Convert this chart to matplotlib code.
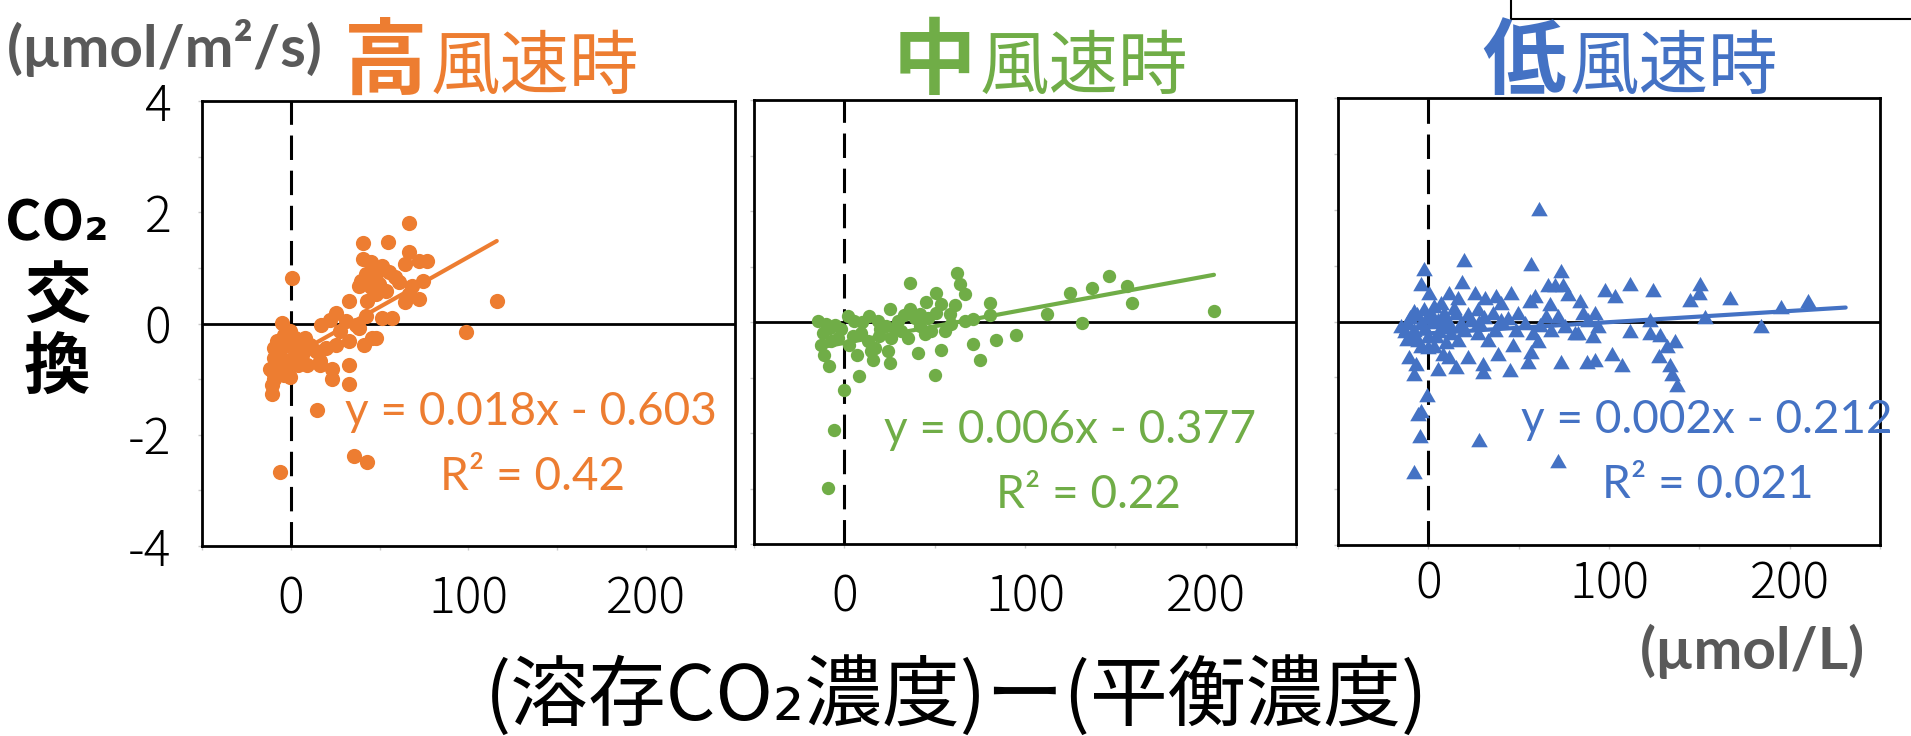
import matplotlib
matplotlib.use('Agg')
import matplotlib.pyplot as plt
from matplotlib.lines import Line2D

plt.rcParams['font.family'] = ['Noto Sans CJK JP', 'DejaVu Sans']
plt.rcParams['axes.unicode_minus'] = False

# 高風速時
high_x = [66.7, 40.4, 54.6, 66.3, 0.6, 115.9, 98.7, 14.8, 35.4, 43.1,
          -6.3, 33.0, 33.0, 23.3, 23.3, -10.6, -10.6, -10.0, -0.4, -5.0,
          16.3, 40.4, 45.0, 51.5, 64.4, 71.9, 76.5, 42.2, 47.8, 55.2,
          58.9, 39.4, 38.5, 45.0, 49.6, 60.7, 68.1, 74.6, 53.3, 43.1,
          47.8, 66.3, 71.9, 64.4, 33.0, 57.0, 51.5, 42.2, 17.2, 25.6,
          21.9, 31.1, 36.7, 38.5, 45.9, 47.8, 41.3, 33.0, 27.4, 25.6,
          20.0, 14.4, 8.9, 8.9, 16.3, -9.6, -9.6, -11.5, -5.9, -4.1,
          -2.2, 2.4, 3.3, 6.1, 1.5, -2.2, -6.9, 4.3, 8.0, 10.7,
          -7.8, -0.4, -4.1, -9.6]
high_y = [1.81, 1.45, 1.47, 1.28, 0.82, 0.41, -0.15, -1.56, -2.38, -2.49,
          -2.67, -0.75, -1.08, -0.81, -0.99, -1.26, -1.11, -0.87, -0.96, 0.01,
          -0.75, 1.16, 1.10, 1.04, 1.07, 1.12, 1.13, 0.89, 0.89, 0.92,
          0.83, 0.77, 0.68, 0.65, 0.71, 0.74, 0.68, 0.77, 0.59, 0.41,
          0.53, 0.53, 0.44, 0.38, 0.41, 0.10, 0.10, 0.13, -0.02, 0.19,
          0.07, 0.04, -0.02, -0.08, -0.26, -0.26, -0.38, -0.32, -0.14, -0.38,
          -0.44, -0.50, -0.44, -0.75, -0.68, -0.44, -0.62, -0.81, -0.56, -0.20,
          -0.38, -0.26, -0.44, -0.56, -0.62, -0.75, -0.75, -0.75, -0.26, -0.38,
          -0.32, -0.14, -0.93, -0.99]

# 中風速時
mid_x = [62.6, 63.9, 66.7, 36.1, 50.9, 45.4, 53.7, 61.1, 80.9, 80.6,
         112.0, 125.0, 137.0, 131.5, 95.0, 83.9, 71.3, 75.0, 50.0, 8.3,
         0.0, -5.9, -9.3, 40.7, 53.7, 25.0, 15.7, -8.3, -11.1, -13.0,
         -14.8, -10.2, -3.7, 2.8, 1.9, 5.6, 13.9, 18.5, 25.0, 29.6,
         36.1, 38.9, 31.5, 25.9, 19.4, 13.0, 9.3, 46.3, 48.1, 44.4,
         55.6, 59.3, 58.3, 66.7, 71.3, 50.9, 41.7, 35.2, 16.7, -7.4,
         -1.9, 23.1, 14.8, 24.1, 146.3, 156.4, 159.2, 204.6,
         -12.0, -8.0, 5.0, 10.0, 20.0, 28.0, 33.0, 42.0, -5.0, 7.0]
mid_y = [0.88, 0.68, 0.50, 0.70, 0.52, 0.36, 0.33, 0.31, 0.34, 0.13,
         0.15, 0.53, 0.61, -0.01, -0.24, -0.33, -0.39, -0.68, -0.95, -0.97,
         -1.22, -1.95, -2.99, -0.56, -0.50, -0.74, -0.68, -0.80, -0.59, -0.41,
         0.02, -0.04, -0.28, -0.41, 0.11, 0.02, 0.11, 0.02, 0.23, 0.02,
         0.23, 0.08, -0.16, -0.28, -0.25, -0.35, -0.19, 0.08, -0.16, -0.22,
         -0.16, -0.04, 0.14, 0.02, 0.05, 0.17, -0.07, -0.28, -0.47, -0.35,
         -0.13, -0.07, -0.53, -0.53, 0.82, 0.65, 0.34, 0.20,
         -0.20, -0.10, -0.25, 0.00, -0.12, -0.10, 0.12, 0.15, -0.05, -0.60]

# 低風速時
low_x = [61.3, 19.6, 56.7, 73.7, -2.2, -4.1, 0.6, 18.5, 11.7, 16.3,
         25.6, 31.1, 37.6, 45.9, 40.4, 56.1, 58.9, 66.3, 70.0, 74.6,
         77.4, 67.2, 83.9, 97.8, 103.3, 111.7, 49.6, 92.2, 85.7, 71.5,
         65.4, 111.7, 91.3, 83.0, 60.7, 57.0, 46.9, 45.0, 55.2, 73.7,
         87.6, 92.2, 101.5, 107.0, 38.5, 30.2, 30.2, 21.9, 15.4, 11.7,
         5.2, 8.0, -7.8, -6.9, -10.6, -0.7, -4.1, -5.9, -4.4, -7.8,
         28.3, 71.9, -15.2, -11.5, -7.8, -4.1, 1.5, 5.2, 8.0, -0.4,
         -5.9, -9.6, 4.3, 12.6, 16.3, 20.0, 23.7, 27.4, 27.4, 33.0,
         36.7, 40.4, 35.9, 15.4, 18.1, 8.9, 48.7, 53.3, 58.0, 68.1,
         75.6, 81.1, 88.5, 94.1, -2.2, 3.3, -4.1, 3.3, -13.0, -10.0,
         -6.0, -2.0, 2.0, 6.0, 10.0, -12.0, -1.0, 7.0, 12.0, 14.0,
         22.0, 28.0, 31.0, 44.0, 62.0, -8.0, 0.0, 10.0, 124.6, 150.6,
         149.6, 145.0, 166.7, 195.0, 210.2, 153.3, 183.9, 122.8, 122.8, 128.3,
         136.3, 132.0, 127.4, 133.7, 134.8, 137.6]
low_y = [1.97, 1.07, 1.00, 0.86, 0.90, 0.64, 0.48, 0.67, 0.48, 0.39,
         0.48, 0.39, 0.42, 0.48, 0.30, 0.33, 0.42, 0.61, 0.61, 0.61,
         0.45, 0.27, 0.33, 0.52, 0.42, 0.64, 0.12, 0.12, 0.12, 0.06,
         0.06, -0.21, -0.30, -0.24, -0.39, -0.58, -0.45, -0.91, -0.76, -0.76,
         -0.76, -0.73, -0.61, -0.82, -0.61, -0.79, -0.94, -0.67, -0.85, -0.67,
         -0.88, -0.61, -0.97, -0.79, -0.67, -1.36, -1.64, -1.70, -2.09, -2.73,
         -2.15, -2.53, -0.12, -0.06, -0.18, -0.06, 0.12, 0.00, -0.12, -0.30,
         -0.36, -0.30, -0.30, -0.24, -0.36, -0.18, 0.00, 0.18, -0.24, -0.36,
         -0.18, 0.00, 0.12, 0.12, -0.06, 0.12, -0.18, -0.06, -0.24, -0.18,
         -0.12, -0.24, 0.00, -0.12, 0.18, 0.24, -0.48, -0.48, -0.20, 0.05,
         0.10, -0.15, -0.05, -0.20, 0.02, -0.35, 0.05, 0.30, -0.10, 0.20,
         0.10, -0.05, 0.05, 0.02, -0.10, 0.15, -0.50, -0.40, 0.52, 0.64,
         0.48, 0.35, 0.39, 0.23, 0.33, 0.05, -0.12, 0.00, -0.24, -0.27,
         -0.39, -0.48, -0.65, -0.82, -0.97, -1.18]

# 近似直線
slopes = [0.018, 0.006, 0.002]
intercepts = [-0.603, -0.377, -0.212]
r2_labels = ['0.42', '0.22', '0.021']
trend_from = [-11.5, -14.8, -15.2]
trend_to = [115.9, 204.6, 231.0]

title_big = ['高', '中', '低']
title_rest = ['風速時', '風速時', '風速時']
xtick_vals = [0, 100, 200]
ytick_vals = [-4, -2, 0, 2, 4]

W, H = 1911, 736
fig = plt.figure(figsize=(W / 100, H / 100), dpi=100)


def fx(px):
    return px / W


def fy(py):
    return 1 - py / H


colors = ['#ED7D31', '#70AD47', '#4472C4']
boxes = [(202, 101, 735, 546), (754, 100, 1296, 544), (1338, 98, 1880, 545)]
tri = [(0, 0.577), (-0.5, -0.289), (0.5, -0.289)]
markers = ['o', 'o', tri]
msize = [120, 92, 190]
xs_all = [high_x, mid_x, low_x]
ys_all = [high_y, mid_y, low_y]
xpads = [17, 17, 7]
split_x = [427, 976, 1566]
eq_pos = [(531, 425, 533, 490), (1070, 443, 1088, 508), (1707, 433, 1708, 498)]
latin = ['Lato', 'DejaVu Sans']

for i in range(3):
    l, t, r, b = boxes[i]
    ax = fig.add_axes([fx(l), fy(b), (r - l) / W, (b - t) / H])
    c = colors[i]
    ax.axhline(0, color='black', lw=2, zorder=1)
    ax.axvline(0, color='black', lw=2.2, dashes=(8, 3.5), zorder=1)
    ax.scatter(xs_all[i], ys_all[i], s=msize[i], marker=markers[i],
               color=c, linewidths=0, zorder=3)
    tx = [trend_from[i], trend_to[i]]
    ty = [slopes[i] * v + intercepts[i] for v in tx]
    ax.plot(tx, ty, color=c, lw=3, solid_capstyle='round', zorder=4)

    ax.set_xlim(-50, 250)
    ax.set_ylim(-4, 4)
    ax.set_xticks(xtick_vals)
    ax.set_xticklabels([str(v) for v in xtick_vals])
    ax.set_xticks([-50, 50, 150, 250], minor=True)
    ax.set_yticks(ytick_vals)
    ax.set_yticks([-3, -1, 1, 3], minor=True)
    if i == 0:
        ax.set_yticklabels([str(v) for v in ytick_vals])
    else:
        ax.set_yticklabels([])
    ax.tick_params(axis='both', which='both', direction='out', length=3,
                   width=1, color='#c8c8c8', labelsize=36)
    ax.tick_params(axis='x', which='major', pad=xpads[i])
    ax.tick_params(axis='y', which='major', pad=19)
    for lab in ax.get_xticklabels() + ax.get_yticklabels():
        lab.set_fontweight('light')
    for sp in ax.spines.values():
        sp.set_color('black')
        sp.set_linewidth(2)

    ex, ey, rx, ry = eq_pos[i]
    fig.text(fx(ex), fy(ey), 'y = {:.3f}x - {:.3f}'.format(slopes[i], abs(intercepts[i])),
             ha='center', va='baseline', fontsize=33, color=c, family=latin)
    fig.text(fx(rx), fy(ry), 'R² = ' + r2_labels[i],
             ha='center', va='baseline', fontsize=33, color=c, family=latin)

    fig.text(fx(split_x[i]), fy(88), title_big[i], ha='right', va='baseline',
             fontsize=60, fontweight='bold', color=c)
    fig.text(fx(split_x[i] + 4), fy(88), title_rest[i], ha='left', va='baseline',
             fontsize=50, color=c)

# 縦軸ラベル
fig.text(fx(57), fy(224), 'CO₂', ha='center', va='center',
         fontsize=40, fontweight='bold')
fig.text(fx(57), fy(297), '交', ha='center', va='center',
         fontsize=48, fontweight='bold')
fig.text(fx(57), fy(369), '換', ha='center', va='center',
         fontsize=48, fontweight='bold')
# 横軸ラベル
fig.text(fx(957), fy(697), '(溶存CO₂濃度)ー(平衡濃度)', ha='center', va='center',
         fontsize=56)
fig.text(fx(7), fy(48), '(µmol/m²/s)', ha='left', va='center', fontsize=42,
         fontweight='bold', color='#595959', family=latin)
fig.text(fx(1752), fy(651), '(µmol/L)', ha='center', va='center', fontsize=42,
         fontweight='bold', color='#595959', family=latin)

# 右上の枠の端
fig.add_artist(Line2D([fx(1511), fx(1511), fx(1911)], [fy(0), fy(19), fy(19)],
                      color='black', lw=1.5))

plt.savefig('out.png', dpi=100)
plt.close()
